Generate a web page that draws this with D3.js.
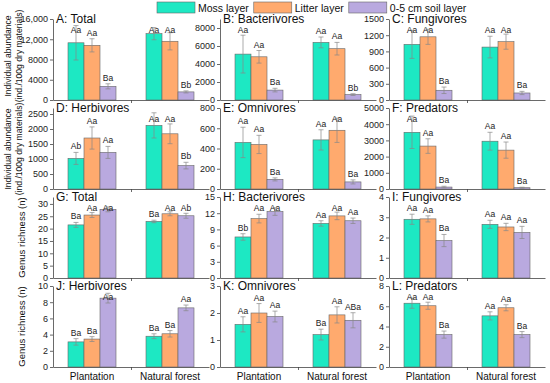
<!DOCTYPE html>
<html>
<head>
<meta charset="utf-8">
<script src="https://cdn.jsdelivr.net/npm/d3@7"></script>
<style>
  body { margin: 0; background: #fff; }
  text { font-family: Arial, "Liberation Sans", sans-serif; }
</style>
</head>
<body>
<svg></svg>
<script>
// 12 small panels: abundance (A-F) and genus richness (G-L)

const width = 550;
const height = 383;

const groups = ["Plantation", "Natural forest"];
const layers = ["Moss layer", "Litter layer", "0-5 cm soil layer"];
const colors = ["#1de8c3", "#ffaa6e", "#b9a9df"];

const panelNames = ["A: Total", "B: Bacterivores", "C: Fungivores",
                    "D: Herbivores", "E: Omnivores", "F: Predators",
                    "G: Total", "H: Bacterivores", "I: Fungivores",
                    "J: Herbivores", "K: Omnivores", "L: Predators"];

const yMax  = [16000, 9000, 1500, 2700, 800, 5000, 32.8, 15, 4, 10, 3, 8];
const yStep = [4000, 2000, 300, 500, 200, 1000, 5, 3, 1, 2, 1, 2];

// means[panel][group][layer]
const means = [
  [[11300, 10800, 2700], [13100, 11600, 1600]],
  [[5100, 4800, 1100], [6400, 5700, 600]],
  [[1030, 1170, 180], [980, 1080, 130]],
  [[1020, 1700, 1220], [2120, 1840, 780]],
  [[460, 440, 95], [485, 580, 70]],
  [[3500, 2650, 120], [2950, 2400, 80]],
  [[21.5, 25.5, 27.8], [22.9, 26, 25.2]],
  [[7.6, 11, 12.3], [10.1, 11.5, 10.6]],
  [[2.9, 2.92, 1.85], [2.65, 2.52, 2.25]],
  [[3.1, 3.45, 8.5], [3.8, 4.1, 7.3]],
  [[1.58, 2.0, 1.87], [1.2, 1.93, 1.73]],
  [[6.3, 6.05, 3.2], [5.05, 5.85, 3.2]]
];

const errors = [
  [[3400, 1300, 500], [1200, 1700, 200]],
  [[2100, 700, 200], [600, 700, 100]],
  [[260, 140, 60], [200, 140, 30]],
  [[200, 370, 200], [420, 330, 110]],
  [[150, 90, 15], [100, 120, 20]],
  [[1000, 450, 50], [550, 500, 30]],
  [[1, 1, 1], [0.5, 0.8, 1]],
  [[0.6, 0.8, 0.7], [0.5, 0.7, 0.5]],
  [[0.25, 0.15, 0.3], [0.2, 0.18, 0.3]],
  [[0.4, 0.3, 0.6], [0.3, 0.4, 0.35]],
  [[0.28, 0.35, 0.2], [0.2, 0.3, 0.28]],
  [[0.5, 0.35, 0.35], [0.4, 0.3, 0.3]]
];

const letters = [
  [["Aa", "Aa", "Ba"], ["Aa", "Aa", "Bb"]],
  [["Aa", "Aa", "Ba"], ["Aa", "Aa", "Bb"]],
  [["Aa", "Aa", "Ba"], ["Aa", "Aa", "Ba"]],
  [["Ab", "Aa", "Aa"], ["Aa", "Aa", "Bb"]],
  [["Aa", "Aa", "Ba"], ["Aa", "Aa", "Ba"]],
  [["Aa", "Aa", "Ba"], ["Aa", "Aa", "Ba"]],
  [["Ba", "Aa", "Aa"], ["Ba", "Aa", "Ab"]],
  [["Bb", "Aa", "Aa"], ["Aa", "Aa", "Aa"]],
  [["Aa", "Aa", "Ba"], ["Aa", "Aa", "Aa"]],
  [["Ba", "Ba", "Aa"], ["Ba", "Ba", "Aa"]],
  [["Aa", "Aa", "Aa"], ["Ba", "Aa", "ABa"]],
  [["Aa", "Aa", "Ba"], ["Aa", "Aa", "Ba"]]
];

const colX = [53, 220, 389];
const rowTop = [19, 108, 197, 286];
const pw = 156;
const ph = 81;

let svg = d3.select("svg")
    .attr("width", width)
    .attr("height", height);

panelNames.forEach((name, i) => {
  const x0 = colX[i % 3];
  const top = rowTop[Math.floor(i / 3)];
  const bottom = top + ph;

  const x = d3.scaleBand().domain(groups).range([x0, x0 + pw]);
  const xl = d3.scaleBand().domain(layers).range([15, 63]);
  const y = d3.scaleLinear().domain([0, yMax[i]]).range([bottom, top]);

  const g = svg.append("g");

  // bars
  groups.forEach((grp, gi) => {
    layers.forEach((lay, li) => {
      const m = means[i][gi][li];
      const e = errors[i][gi][li];
      const bx = x(grp) + xl(lay);
      const cx = bx + xl.bandwidth() / 2;
      g.append("rect")
        .attr("x", bx)
        .attr("y", y(m))
        .attr("width", xl.bandwidth())
        .attr("height", bottom - y(m))
        .attr("fill", colors[li])
        .attr("stroke", "#666")
        .attr("stroke-width", 0.6);
      // error bar
      const eb = g.append("g").attr("stroke", "#888").attr("stroke-width", 0.7);
      eb.append("line").attr("x1", cx).attr("x2", cx).attr("y1", y(m - e)).attr("y2", y(m + e));
      eb.append("line").attr("x1", cx - 2.5).attr("x2", cx + 2.5).attr("y1", y(m + e)).attr("y2", y(m + e));
      eb.append("line").attr("x1", cx - 2.5).attr("x2", cx + 2.5).attr("y1", y(m - e)).attr("y2", y(m - e));
      // keep the letters below the panel title
      g.append("text")
        .attr("x", cx)
        .attr("y", Math.max(y(m + e) - 3, top + 14))
        .attr("text-anchor", "middle")
        .attr("font-size", 8.5)
        .attr("fill", "#222")
        .text(letters[i][gi][li]);
    });
  });

  // y axis
  const ticks = d3.range(0, yMax[i] + 1e-9, yStep[i]);
  const yAxis = g.append("g")
    .attr("transform", `translate(${x0},0)`)
    .call(d3.axisLeft(y).tickValues(ticks).tickSize(3).tickSizeOuter(0)
      .tickFormat(d => d >= 10000 ? d3.format(",")(d) : d));
  yAxis.selectAll("text").attr("font-size", 9).attr("fill", "#222").attr("dx", 1);

  // x axis with one tick between the groups
  const xs = d3.scaleLinear().domain([0, 2]).range([x0, x0 + pw]);
  g.append("g")
    .attr("transform", `translate(0,${bottom})`)
    .call(d3.axisBottom(xs).tickValues([1]).tickSize(3).tickSizeOuter(0).tickFormat(""));

  g.selectAll(".domain, .tick line").attr("stroke", "#444").attr("stroke-width", 0.8);

  g.append("text")
    .attr("x", x0 + 3)
    .attr("y", top + 4)
    .attr("font-size", 12)
    .attr("fill", "#111")
    .text(name);

  if (i >= 9) {
    groups.forEach(grp => {
      g.append("text")
        .attr("x", x(grp) + x.bandwidth() / 2)
        .attr("y", 380)
        .attr("text-anchor", "middle")
        .attr("font-size", 10)
        .attr("fill", "#111")
        .text(grp);
    });
  }
});

// y axis titles
function yTitle(lines, cy, xs, fs) {
  lines.forEach((t, k) => {
    svg.append("text")
      .attr("transform", `translate(${xs[k]},${cy}) rotate(-90)`)
      .attr("text-anchor", "middle")
      .attr("font-size", fs)
      .attr("fill", "#111")
      .text(t);
  });
}
yTitle(["Individual abundance", "(ind./100g dry materials)"], 56, [11, 22], 8.6);
yTitle(["Individual abundance", "(ind./100g dry materials)"], 149, [11, 22], 8.6);
yTitle(["Genus richness (n)"], rowTop[2] + ph / 2, [25], 9.5);
yTitle(["Genus richness (n)"], rowTop[3] + ph / 2, [25], 9.5);

// legend
let lx = 157;
layers.forEach((lay, li) => {
  svg.append("rect")
    .attr("x", lx).attr("y", 2)
    .attr("width", 38).attr("height", 11)
    .attr("fill", colors[li])
    .attr("stroke", "#666").attr("stroke-width", 0.6);
  const t = svg.append("text")
    .attr("x", lx + 41).attr("y", 11.5)
    .attr("font-size", 10.5)
    .attr("fill", "#111")
    .text(lay);
  lx += 41 + t.node().getComputedTextLength() + 5;
});
</script>
</body>
</html>
